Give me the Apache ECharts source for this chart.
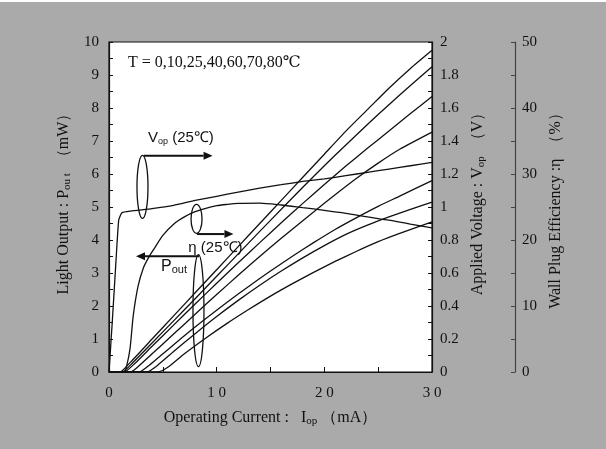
<!DOCTYPE html>
<html>
<head>
<meta charset="utf-8">
<script src="https://cdn.jsdelivr.net/npm/echarts@6/dist/echarts.min.js"></script>
<style>
  html, body { margin: 0; padding: 0; background: #fff; }
  #chart { position: absolute; left: 0; top: 2px; width: 606px; height: 447px; }
</style>
</head>
<body>
<div id="chart"></div>
<script>
// Light output Pout (mW) vs operating current (mA), T = 0,10,25,40,60,70,80 °C
const pout0 = [[0,0],[1.0,0],[2,0.3],[4,1.0],[6,1.7],[8,2.4],[10,3.1],[12,3.8],[14,4.5],[16,5.2],[18,5.9],[20,6.6],[22,7.3],[24,7.95],[26,8.6],[28,9.2],[30,9.75]]
const pout10 = [[0,0],[1.2,0],[2.2,0.28],[4,0.88],[6,1.55],[8,2.22],[10,2.9],[12,3.58],[14,4.26],[16,4.93],[18,5.6],[20,6.25],[22,6.88],[24,7.5],[26,8.1],[28,8.68],[30,9.25]]
const pout25 = [[0,0],[1.4,0],[2.4,0.26],[4,0.78],[6,1.42],[8,2.06],[10,2.69],[12,3.31],[14,3.92],[16,4.52],[18,5.11],[20,5.68],[22,6.24],[24,6.78],[26,7.3],[28,7.83],[30,8.35]]
const pout40 = [[0,0],[2,0],[3,0.25],[5,0.85],[7,1.45],[9,2.05],[11,2.64],[13,3.22],[15,3.78],[17,4.32],[19,4.85],[21,5.37],[23,5.87],[25,6.33],[27,6.75],[30,7.27]]
const pout60 = [[0,0],[2.8,0],[3.8,0.22],[5,0.55],[7,1.1],[9,1.62],[11,2.12],[13,2.6],[15,3.06],[17,3.5],[19,3.92],[21,4.32],[23,4.68],[25,5.02],[27,5.33],[30,5.8]]
const pout70 = [[0,0],[3.5,0],[4.5,0.2],[6,0.62],[8,1.16],[10,1.68],[12,2.17],[14,2.63],[16,3.06],[18,3.46],[20,3.83],[22,4.17],[24,4.45],[26,4.7],[28,4.93],[30,5.15]]
const pout80 = [[0,0],[4.5,0],[5.5,0.15],[7,0.55],[9,1.03],[11,1.48],[13,1.9],[15,2.3],[17,2.67],[19,3.02],[21,3.35],[23,3.66],[25,3.95],[27,4.2],[30,4.55]]
const poutCurves = [pout0, pout10, pout25, pout40, pout60, pout70, pout80]

// applied voltage Vop (V) at 25 °C
const vop25 = [[0,0],[0.3,0.3],[0.6,0.62],[0.9,0.92],[1.2,0.965],[2,0.975],[4,0.99],[6,1.01],[8,1.04],[10,1.065],[12,1.09],[14,1.115],[16,1.135],[18,1.155],[20,1.17],[22,1.19],[24,1.21],[26,1.23],[28,1.25],[30,1.27]]

// wall plug efficiency (%) at 25 °C
const eta25 = [[0,0],[1.4,0],[1.65,1],[1.95,3.5],[2.25,8.5],[2.7,13],[3.2,15.8],[3.7,17.4],[4.2,18.7],[5,20.7],[6,22.4],[7,23.5],[8,24.3],[9,24.8],[10,25.2],[11,25.4],[12,25.55],[14,25.6],[16,25.3],[18,24.9],[20,24.5],[22,24.05],[24,23.5],[26,23.0],[28,22.4],[30,21.85]]

const ink = '#111'
const serif = '"Liberation Serif", "DejaVu Serif", serif'
const sans = '"Liberation Sans", Arial, sans-serif'

let chart = echarts.init(document.getElementById('chart'))

function lineSeries (data, yIndex, smooth) {
  return {
    type: 'line',
    data: data,
    yAxisIndex: yIndex,
    showSymbol: false,
    smooth: smooth,
    lineStyle: { color: ink, width: 1.3 },
    itemStyle: { color: ink },
    emphasis: { disabled: true },
    z: 3
  }
}

let subRich = {
  s: { fontSize: 11, fontFamily: serif, color: ink, padding: [7, 0, 0, 0] }
}

let option = {
  backgroundColor: '#aaaaaa',
  animation: false,
  grid: {
    left: 109, right: 174, top: 40, bottom: 77,
    show: true,
    backgroundColor: '#fff',
    borderColor: ink,
    borderWidth: 1.2
  },
  xAxis: {
    type: 'value',
    min: 0, max: 30, interval: 5,
    name: 'Operating Current :   I{s|op} （mA）',
    nameLocation: 'middle',
    nameGap: 37,
    nameTextStyle: { fontFamily: serif, fontSize: 16, color: ink, rich: subRich },
    axisLine: { show: true, lineStyle: { color: ink, width: 1.2 } },
    axisTick: { show: true, inside: true, length: 5, lineStyle: { color: ink } },
    splitLine: { show: false },
    axisLabel: {
      fontFamily: serif, fontSize: 15, color: ink, margin: 14,
      formatter: v => v % 10 === 0 ? String(v).split('').join(' ') : ''
    }
  },
  yAxis: [
    {
      type: 'value', position: 'left',
      min: 0, max: 10, interval: 1,
      name: 'Light Output : P{s|ou t}  （mW）',
      nameLocation: 'middle', nameRotate: 90, nameGap: 36,
      nameTextStyle: { fontFamily: serif, fontSize: 16, color: ink, rich: subRich, padding: [0, 0, 0, 14] },
      axisLine: { show: true, lineStyle: { color: ink, width: 1.2 } },
      axisTick: { show: true, inside: true, length: 4, lineStyle: { color: ink } },
      minorTick: { show: true, splitNumber: 2, length: 4, lineStyle: { color: ink } },
      splitLine: { show: false },
      axisLabel: { fontFamily: serif, fontSize: 15, color: ink, margin: 10 }
    },
    {
      type: 'value', position: 'right',
      min: 0, max: 2, interval: 0.2,
      name: 'Applied Voltage : V{s|op}  （V）',
      nameLocation: 'middle', nameRotate: 90, nameGap: 37,
      nameTextStyle: { fontFamily: serif, fontSize: 16, color: ink, rich: subRich, padding: [0, 0, 0, 14] },
      axisLine: { show: true, lineStyle: { color: ink, width: 1.2 } },
      axisTick: { show: true, inside: true, length: 4, lineStyle: { color: ink } },
      minorTick: { show: true, splitNumber: 2, length: 4, lineStyle: { color: ink } },
      splitLine: { show: false },
      axisLabel: { fontFamily: serif, fontSize: 15, color: ink, margin: 8 }
    },
    {
      type: 'value', position: 'right', offset: 83,
      min: 0, max: 50, interval: 10,
      name: 'Wall Plug Efficiency :η  （%）',
      nameLocation: 'middle', nameRotate: 90, nameGap: 31,
      nameTextStyle: { fontFamily: serif, fontSize: 16, color: ink },
      axisLine: { show: true, lineStyle: { color: '#444', width: 1.2 } },
      axisTick: { show: true, inside: true, length: 4, lineStyle: { color: '#444' } },
      minorTick: { show: true, splitNumber: 2, length: 4, lineStyle: { color: '#444' } },
      splitLine: { show: false },
      axisLabel: { fontFamily: serif, fontSize: 15, color: ink, margin: 7 }
    }
  ],
  series: poutCurves.map(d => lineSeries(d, 0, 0.2))
    .concat([lineSeries(vop25, 1, 0.15), lineSeries(eta25, 2, 0.25)])
}

chart.setOption(option)

// annotation anchors in data units (mA, mW)
const vopMark = { center: [3.11, 5.61], rx: 5.5, ry: 31.5, arrowFrom: [3.25, 6.55], arrowTo: [9.62, 6.55] }
const etaMark = { center: [8.13, 4.64], rx: 5.5, ry: 14.5, arrowFrom: [8.17, 4.18], arrowTo: [11.56, 4.18] }
const poutMark = { center: [8.31, 1.86], rx: 5.5, ry: 56, arrowFrom: [8.36, 3.51], arrowTo: [2.51, 3.51] }

function px (p) {
  return chart.convertToPixel({ xAxisIndex: 0, yAxisIndex: 0 }, p)
}

function arrow (from, to) {
  let a = px(from)
  let b = px(to)
  let dir = b[0] > a[0] ? 1 : -1
  let head = 9
  return [
    { type: 'line', shape: { x1: a[0], y1: a[1], x2: b[0] - dir * head, y2: b[1] },
      style: { stroke: ink, lineWidth: 2 }, z: 10 },
    { type: 'polygon', shape: { points: [[b[0], b[1]], [b[0] - dir * head, b[1] - 4], [b[0] - dir * head, b[1] + 4]] },
      style: { fill: ink }, z: 10 }
  ]
}

function ellipse (m) {
  let c = px(m.center)
  return { type: 'ellipse', shape: { cx: c[0], cy: c[1], rx: m.rx, ry: m.ry },
    style: { fill: 'none', stroke: ink, lineWidth: 1.3 }, z: 10 }
}

function label (pos, text, rich, font) {
  let p = px(pos)
  return { type: 'text', x: p[0], y: p[1], z: 11,
    style: { text: text, fill: ink, font: font, verticalAlign: 'middle', rich: rich } }
}

let sansRich = {
  s: { fontSize: 9, fontFamily: sans, fill: ink, padding: [8, 0, 0, 0] }
}
let poutRich = {
  s: { fontSize: 11, fontFamily: sans, fill: ink, padding: [8, 0, 0, 0] }
}

let graphics = []
  .concat([ellipse(vopMark), ellipse(etaMark), ellipse(poutMark)])
  .concat(arrow(vopMark.arrowFrom, vopMark.arrowTo))
  .concat(arrow(etaMark.arrowFrom, etaMark.arrowTo))
  .concat(arrow(poutMark.arrowFrom, poutMark.arrowTo))
  .concat([
    label([1.76, 9.36], 'T = 0,10,25,40,60,70,80℃', null, '16px ' + serif),
    label([3.62, 7.11], 'V{s|op} (25℃)', sansRich, '15px ' + sans),
    label([7.37, 3.76], 'η (25℃)', null, '15px ' + sans),
    label([4.83, 3.2], 'P{s|out}', poutRich, '16px ' + sans)
  ])

chart.setOption({ graphic: graphics })
</script>
</body>
</html>
